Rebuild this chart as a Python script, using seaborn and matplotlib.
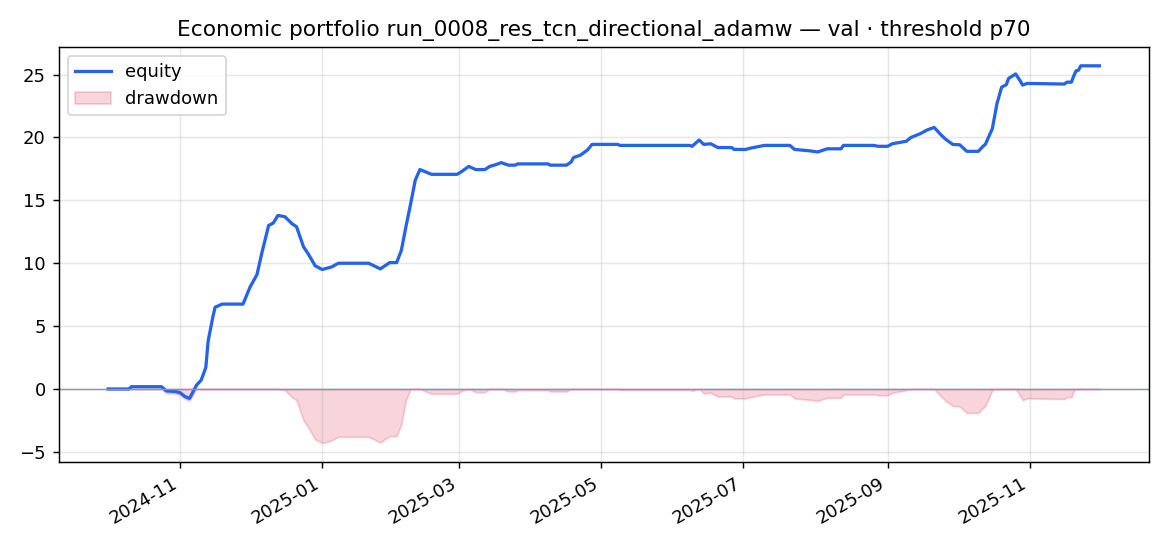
import matplotlib
matplotlib.use("Agg")
import matplotlib.pyplot as plt
import matplotlib.dates as mdates
import seaborn as sns
import pandas as pd

dates = [
    "2024-10-01", "2024-10-10", "2024-10-11", "2024-10-24", "2024-10-26", "2024-10-30",
    "2024-11-01", "2024-11-03", "2024-11-05", "2024-11-08", "2024-11-10", "2024-11-12",
    "2024-11-13", "2024-11-15", "2024-11-16", "2024-11-19", "2024-11-28", "2024-12-01",
    "2024-12-04", "2024-12-06", "2024-12-09", "2024-12-11", "2024-12-13", "2024-12-16",
    "2024-12-19", "2024-12-21", "2024-12-24", "2024-12-26", "2024-12-29", "2025-01-01",
    "2025-01-05", "2025-01-08", "2025-01-21", "2025-01-26", "2025-01-30", "2025-02-02",
    "2025-02-04", "2025-02-06", "2025-02-08", "2025-02-10", "2025-02-12", "2025-02-14",
    "2025-02-17", "2025-02-28", "2025-03-02", "2025-03-05", "2025-03-08", "2025-03-12",
    "2025-03-14", "2025-03-16", "2025-03-19", "2025-03-22", "2025-03-25", "2025-03-26",
    "2025-04-08", "2025-04-09", "2025-04-16", "2025-04-18", "2025-04-19", "2025-04-22",
    "2025-04-25", "2025-04-27", "2025-05-08", "2025-05-09", "2025-06-08", "2025-06-09",
    "2025-06-12", "2025-06-14", "2025-06-17", "2025-06-20", "2025-06-26", "2025-06-27",
    "2025-07-02", "2025-07-04", "2025-07-10", "2025-07-21", "2025-07-23", "2025-07-29",
    "2025-08-02", "2025-08-06", "2025-08-12", "2025-08-13", "2025-08-26", "2025-08-28",
    "2025-09-01", "2025-09-03", "2025-09-09", "2025-09-11", "2025-09-15", "2025-09-18",
    "2025-09-21", "2025-09-24", "2025-09-26", "2025-09-29", "2025-10-02", "2025-10-05",
    "2025-10-10", "2025-10-12", "2025-10-13", "2025-10-16", "2025-10-18", "2025-10-20",
    "2025-10-22", "2025-10-23", "2025-10-26", "2025-10-28", "2025-10-29", "2025-10-31",
    "2025-11-16", "2025-11-17", "2025-11-19", "2025-11-20", "2025-11-21", "2025-11-22",
    "2025-11-23", "2025-12-01",
]
equity = [
    0.0, 0.0, 0.18, 0.18, -0.15, -0.2,
    -0.3, -0.6, -0.75, 0.3, 0.7, 1.7,
    3.8, 5.7, 6.5, 6.75, 6.75, 8.1,
    9.1, 10.75, 13.0, 13.2, 13.8, 13.7,
    13.15, 12.9, 11.3, 10.75, 9.8, 9.5,
    9.7, 10.0, 10.0, 9.55, 10.05, 10.05,
    11.0, 12.9, 14.7, 16.6, 17.45, 17.3,
    17.07, 17.07, 17.3, 17.7, 17.45, 17.45,
    17.7, 17.8, 18.0, 17.8, 17.8, 17.9,
    17.9, 17.8, 17.8, 18.05, 18.4, 18.6,
    19.0, 19.45, 19.45, 19.37, 19.37, 19.3,
    19.8, 19.45, 19.5, 19.2, 19.2, 19.05,
    19.05, 19.15, 19.37, 19.37, 19.05, 18.95,
    18.85, 19.1, 19.1, 19.37, 19.37, 19.3,
    19.3, 19.5, 19.7, 20.0, 20.3, 20.6,
    20.8, 20.2, 19.85, 19.45, 19.42, 18.9,
    18.9, 19.3, 19.45, 20.7, 22.7, 24.0,
    24.2, 24.7, 25.05, 24.5, 24.17, 24.3,
    24.25, 24.4, 24.4, 24.9, 25.3, 25.35,
    25.7, 25.7,
]

df = pd.DataFrame({"date": pd.to_datetime(dates), "equity": equity})
df["drawdown"] = df["equity"] - df["equity"].cummax()

fig, ax = plt.subplots(figsize=(9, 4.2), dpi=130)

sns.lineplot(data=df, x="date", y="equity", ax=ax, color="#2563eb", linewidth=1.8, label="equity")
ax.fill_between(df["date"], df["drawdown"], 0, color="crimson", alpha=0.18, label="drawdown")
ax.axhline(0, color="#8b95a5", linewidth=0.8)

ax.set_title("Economic portfolio run_0008_res_tcn_directional_adamw — val · threshold p70", fontsize=12)
ax.set_xlabel("")
ax.set_ylabel("")
ax.grid(alpha=0.3)
ax.xaxis.set_major_locator(mdates.MonthLocator(bymonth=[1, 3, 5, 7, 9, 11]))
ax.xaxis.set_major_formatter(mdates.DateFormatter("%Y-%m"))
ax.legend(loc="upper left")
fig.autofmt_xdate()
fig.subplots_adjust(left=0.05, right=0.982, top=0.914, bottom=0.154)

fig.savefig("out.png", dpi=130)
